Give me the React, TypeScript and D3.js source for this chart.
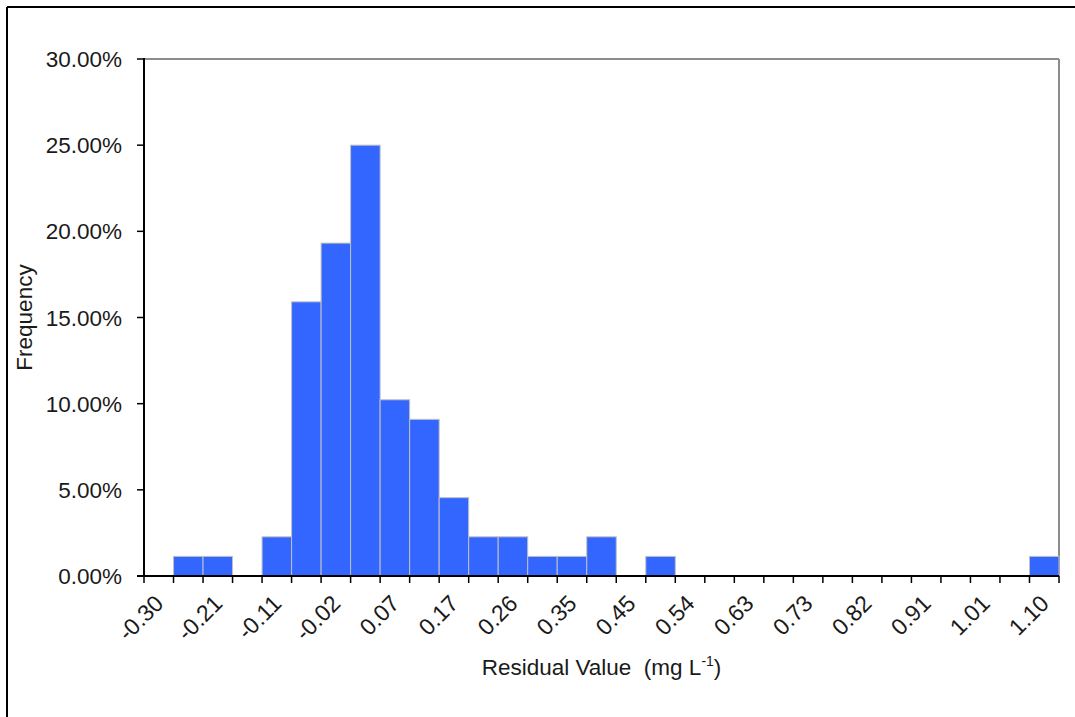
import React from "react";
import * as d3 from "d3";

// Histogram of residuals: 31 bins, every other bin is labelled
const tickLabels = ["-0.30", "-0.21", "-0.11", "-0.02", "0.07", "0.17", "0.26", "0.35", "0.45", "0.54", "0.63", "0.73", "0.82", "0.91", "1.01", "1.10"];
const binIndex = d3.range(31);
const frequencies = [0, 1.136, 1.136, 0, 2.273, 15.909, 19.318, 25.0, 10.227, 9.091, 4.545, 2.273, 2.273, 1.136, 1.136, 2.273, 0, 1.136, 0, 0, 0, 0, 0, 0, 0, 0, 0, 0, 0, 0, 1.136];
const yTicks = [0, 5, 10, 15, 20, 25, 30];

const W = 1075;
const H = 717;
const M = { left: 144, right: 1059, top: 59, bottom: 576 };
const FONT = "'Liberation Sans', Arial, sans-serif";

export default function App() {
  const x = d3.scaleBand<number>().domain(binIndex).range([M.left, M.right]).padding(0);
  const y = d3.scaleLinear().domain([0, 30]).range([M.bottom, M.top]);
  const bw = x.bandwidth();

  return (
    <svg width={W} height={H} style={{ position: "absolute", left: 0, top: 0, background: "#fff" }} fontFamily={FONT}>
      <rect x={0} y={0} width={W} height={H} fill="#fff" />
      {/* outer chart frame (top + left visible) */}
      <line x1={7} x2={W} y1={7} y2={7} stroke="#000" strokeWidth={2} />
      <line x1={7} x2={7} y1={7} y2={H} stroke="#000" strokeWidth={2} />

      {/* plot area border */}
      <line x1={M.left} x2={M.right} y1={M.top} y2={M.top} stroke="#8c8c8c" strokeWidth={2} />
      <line x1={M.right} x2={M.right} y1={M.top} y2={M.bottom} stroke="#8c8c8c" strokeWidth={2} />

      {/* bars */}
      {binIndex.map((i) =>
        frequencies[i] > 0 ? (
          <rect
            key={i}
            x={x(i)!}
            y={y(frequencies[i])}
            width={bw}
            height={y(0) - y(frequencies[i])}
            fill="#3366ff"
            stroke="#c0c0c0"
            strokeWidth={1}
          />
        ) : null
      )}

      {/* y axis */}
      <line x1={M.left} x2={M.left} y1={M.top - 1} y2={M.bottom} stroke="#000" strokeWidth={2} />
      {yTicks.map((t) => (
        <g key={t}>
          <line x1={M.left - 7} x2={M.left} y1={y(t)} y2={y(t)} stroke="#000" strokeWidth={1.5} />
          <text x={M.left - 22} y={y(t)} dy="0.36em" textAnchor="end" fontSize={22.5} fill="#1a1a1a">
            {t.toFixed(2) + "%"}
          </text>
        </g>
      ))}

      {/* x axis */}
      <line x1={M.left - 7} x2={M.right} y1={M.bottom} y2={M.bottom} stroke="#000" strokeWidth={2} />
      {d3.range(32).map((k) => {
        const px = M.left + k * bw;
        return <line key={k} x1={px} x2={px} y1={M.bottom} y2={M.bottom + 7} stroke="#000" strokeWidth={1.5} />;
      })}
      {tickLabels.map((lab, j) => {
        const cx = x(j * 2)! + bw / 2;
        return (
          <text
            key={lab}
            transform={`translate(${cx + 6},${M.bottom + 29}) rotate(-45)`}
            textAnchor="end"
            fontSize={23}
            fill="#1a1a1a"
          >
            {lab}
          </text>
        );
      })}

      {/* axis titles */}
      <text x={(M.left + M.right) / 2} y={675} textAnchor="middle" fontSize={22.5} fill="#1a1a1a">
        Residual Value{"\u00a0"} (mg L
        <tspan fontSize={14} dy={-9}>-1</tspan>
        <tspan dy={9}>)</tspan>
      </text>
      <text
        transform={`translate(32,${(M.top + M.bottom) / 2}) rotate(-90)`}
        textAnchor="middle"
        fontSize={22.5}
        fill="#1a1a1a"
      >
        Frequency
      </text>
    </svg>
  );
}
